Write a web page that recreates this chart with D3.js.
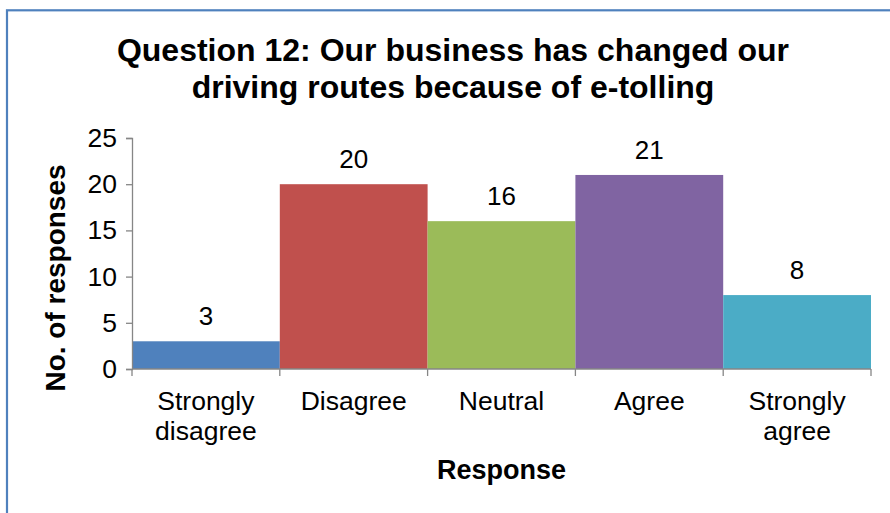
<!DOCTYPE html>
<html>
<head>
<meta charset="utf-8">
<script src="https://cdn.jsdelivr.net/npm/d3@7"></script>
<style>
  html, body { margin: 0; padding: 0; background: #fff; }
  svg { display: block; font-family: "Liberation Sans", Arial, sans-serif; }
</style>
</head>
<body>
<svg id="chart" width="890" height="513"></svg>
<script>
// Survey responses for question 12
const categories = [["Strongly", "disagree"], ["Disagree"], ["Neutral"], ["Agree"], ["Strongly", "agree"]];
const responses = [3, 20, 16, 21, 8];
const barColors = ["#4F81BD", "#C0504D", "#9BBB59", "#8064A2", "#4BACC6"];
const yTicks = [0, 5, 10, 15, 20, 25];
const titleLines = ["Question 12: Our business has changed our", "driving routes because of e-tolling"];

const svg = d3.select("#chart");
const W = 890, H = 513;
const plot = { left: 132, right: 871, top: 138, bottom: 369 };

svg.append("rect").attr("width", W).attr("height", H).attr("fill", "#fff");

// Chart-area frame (continues past the right and bottom edges)
svg.append("rect")
  .attr("x", 7).attr("y", 10.3)
  .attr("width", 1000).attr("height", 1000)
  .attr("fill", "none").attr("stroke", "#4F81BD").attr("stroke-width", 2.2);

const keys = categories.map((c, i) => i);
const x = d3.scaleBand().domain(keys).range([plot.left, plot.right]).padding(0);
const y = d3.scaleLinear().domain([0, 25]).range([plot.bottom, plot.top]);

// Bars
svg.append("g").selectAll("rect").data(responses).join("rect")
  .attr("x", (d, i) => x(i))
  .attr("y", d => y(d))
  .attr("width", x.bandwidth())
  .attr("height", d => y(0) - y(d))
  .attr("fill", (d, i) => barColors[i]);

// Value labels
svg.append("g").selectAll("text").data(responses).join("text")
  .attr("x", (d, i) => x(i) + x.bandwidth() / 2)
  .attr("y", d => y(d) - 16)
  .attr("text-anchor", "middle")
  .attr("font-size", 26)
  .attr("fill", "#000")
  .text(d => d);

// Y axis
const yAxis = d3.axisLeft(y).tickValues(yTicks).tickSize(6).tickPadding(9);
const gy = svg.append("g").attr("transform", `translate(${plot.left},0)`).call(yAxis);
gy.select(".domain").attr("stroke", "#868686").attr("stroke-width", 1.3);
gy.selectAll(".tick line").attr("stroke", "#868686").attr("stroke-width", 1.3);
gy.selectAll(".tick text").attr("font-size", 26.5).attr("fill", "#000")
  .attr("font-family", "Liberation Sans, Arial, sans-serif");

// X axis: line with ticks at category boundaries
const gx = svg.append("g");
gx.append("line")
  .attr("x1", plot.left).attr("x2", plot.right)
  .attr("y1", y(0)).attr("y2", y(0))
  .attr("stroke", "#868686").attr("stroke-width", 1.3);
const bounds = keys.map(i => x(i)).concat([x(keys.length - 1) + x.bandwidth()]);
gx.selectAll("line.tk").data(bounds).join("line").attr("class", "tk")
  .attr("x1", d => d).attr("x2", d => d)
  .attr("y1", y(0)).attr("y2", y(0) + 7)
  .attr("stroke", "#868686").attr("stroke-width", 1.3);

// Category labels
const cat = gx.selectAll("text.cat").data(categories).join("text").attr("class", "cat")
  .attr("text-anchor", "middle")
  .attr("font-size", 26.5)
  .attr("fill", "#000");
cat.each(function (lines, i) {
  d3.select(this).selectAll("tspan").data(lines).join("tspan")
    .attr("x", x(i) + x.bandwidth() / 2)
    .attr("y", (d, j) => 410 + j * 30)
    .text(d => d);
});

// Axis titles
svg.append("text")
  .attr("x", (plot.left + plot.right) / 2).attr("y", 479)
  .attr("text-anchor", "middle").attr("font-weight", "bold").attr("font-size", 27)
  .text("Response");

svg.append("text")
  .attr("transform", "translate(65,278) rotate(-90)")
  .attr("text-anchor", "middle").attr("font-weight", "bold").attr("font-size", 28)
  .text("No. of responses");

// Title
svg.append("text")
  .attr("text-anchor", "middle").attr("font-weight", "bold").attr("font-size", 32)
  .selectAll("tspan").data(titleLines).join("tspan")
  .attr("x", 453)
  .attr("y", (d, i) => 61 + i * 37)
  .text(d => d);
</script>
</body>
</html>
